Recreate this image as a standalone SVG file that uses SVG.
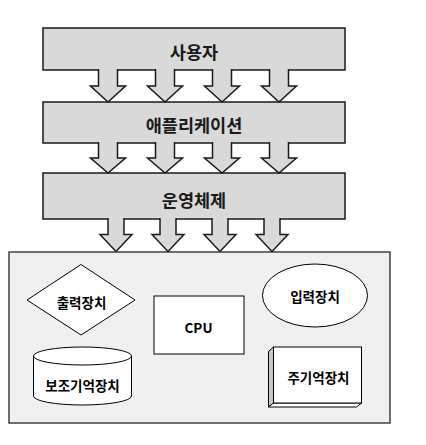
<svg xmlns="http://www.w3.org/2000/svg" width="426" height="445" viewBox="0 0 426 445">
<style>
.layer{fill:#d9d9d9;stroke:#1a1a1a;stroke-width:1.5}
.arr{fill:#d9d9d9;stroke:#1a1a1a;stroke-width:1.5;stroke-linejoin:miter}
.big{font-family:"Noto Sans CJK KR","Noto Sans",sans-serif;font-weight:bold;font-size:17.5px;fill:#1a1a1a;text-anchor:middle;dominant-baseline:central}
.sm{font-family:"Noto Sans CJK KR","Noto Sans",sans-serif;font-weight:bold;font-size:13.5px;fill:#000;text-anchor:middle;dominant-baseline:central}
.shape{fill:#fff;stroke:#000;stroke-width:1}
</style>
<rect width="426" height="445" fill="#fff"/>
<g id="hardware">
<rect x="9" y="252" width="381" height="171" fill="#f0f0f0" stroke="#404040" stroke-width="1.5"/>
</g>
<g id="user">
<rect class="layer" x="43" y="28" width="302" height="42"/>
<text class="big" x="194" y="51.5">사용자</text>
</g>
<g id="application">
<rect class="layer" x="43" y="102" width="302" height="41"/>
<text class="big" x="194" y="124.5">애플리케이션</text>
</g>
<g id="os">
<rect class="layer" x="43" y="173" width="302" height="46"/>
<text class="big" x="194" y="199">운영체제</text>
</g>
<g id="connectors">
<path class="arr" d="M98.5,69 V86 H90.5 L108,102 L125.5,86 H117.5 V69"/>
<path class="arr" d="M155.5,69 V86 H147.5 L165,102 L182.5,86 H174.5 V69"/>
<path class="arr" d="M212.5,69 V86 H204.5 L222,102 L239.5,86 H231.5 V69"/>
<path class="arr" d="M269.5,69 V86 H261.5 L279,102 L296.5,86 H288.5 V69"/>
<path class="arr" d="M98.5,142 V158 H90.5 L108,173 L125.5,158 H117.5 V142"/>
<path class="arr" d="M155.5,142 V158 H147.5 L165,173 L182.5,158 H174.5 V142"/>
<path class="arr" d="M212.5,142 V158 H204.5 L222,173 L239.5,158 H231.5 V142"/>
<path class="arr" d="M269.5,142 V158 H261.5 L279,173 L296.5,158 H288.5 V142"/>
<path class="arr" d="M108,218 V234.5 H100 L116,251.5 L132,234.5 H124 V218"/>
<path class="arr" d="M160,218 V234.5 H152 L168,251.5 L184,234.5 H176 V218"/>
<path class="arr" d="M212,218 V234.5 H204 L220,251.5 L236,234.5 H228 V218"/>
<path class="arr" d="M264,218 V234.5 H256 L272,251.5 L288,234.5 H280 V218"/>
</g>
<g id="output">
<polygon class="shape" points="81,264.5 135,300 81,335 27,300"/>
<text class="sm" x="81.5" y="301.5">출력장치</text>
</g>
<g id="cpu">
<rect class="shape" x="154" y="296" width="90" height="58"/>
<text class="sm" x="198.5" y="326.5">CPU</text>
</g>
<g id="input">
<ellipse class="shape" cx="315" cy="295.5" rx="52.5" ry="31.5"/>
<text class="sm" x="315" y="295.5">입력장치</text>
</g>
<g id="storage">
<path class="shape" d="M33.5,356 A49,9 0 0 1 131.5,356 V396 A49,9 0 0 1 33.5,396 Z"/>
<path fill="none" stroke="#000" stroke-width="1" d="M33.5,356 A49,9 0 0 0 131.5,356"/>
<text class="sm" x="82.5" y="385">보조기억장치</text>
</g>
<g id="memory">
<polygon fill="#c8c8c8" stroke="#000" stroke-width="1" points="268.5,351.5 273.5,347 273.5,403 268.5,407"/>
<polygon fill="#fff" stroke="#000" stroke-width="1" points="268.5,407 273.5,403 361.5,403 356.5,407"/>
<rect class="shape" x="273.5" y="347" width="88" height="56"/>
<text class="sm" x="318.5" y="376.5">주기억장치</text>
</g>
</svg>
